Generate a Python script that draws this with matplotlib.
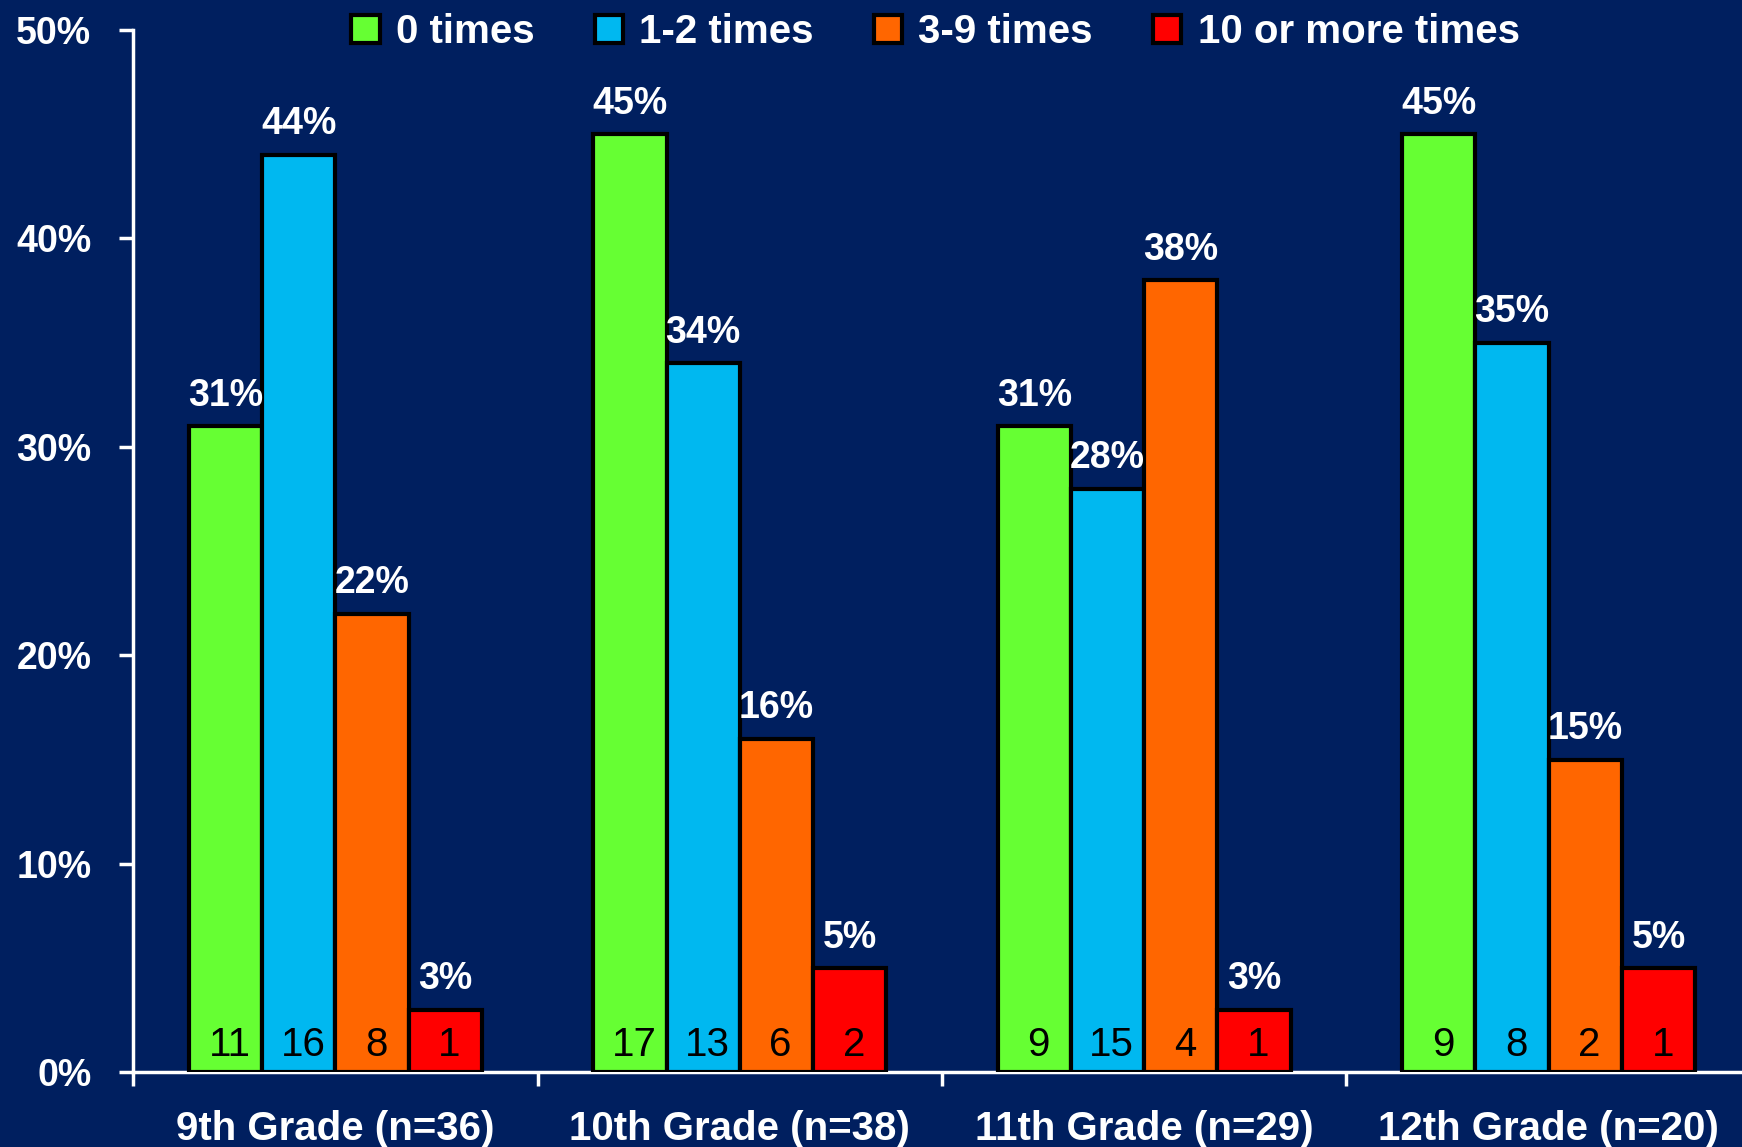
import numpy as np
import matplotlib
matplotlib.use("Agg")
import matplotlib.pyplot as plt
from matplotlib.ticker import FixedLocator

plt.rcParams['font.family'] = ['Liberation Sans', 'DejaVu Sans']

# data
grades = ["9th Grade (n=36)", "10th Grade (n=38)", "11th Grade (n=29)", "12th Grade (n=20)"]
series = ["0 times", "1-2 times", "3-9 times", "10 or more times"]
pct_0 = [31, 45, 31, 45]
pct_12 = [44, 34, 28, 35]
pct_39 = [22, 16, 38, 15]
pct_10 = [3, 5, 3, 5]
cnt_0 = [11, 17, 9, 9]
cnt_12 = [16, 13, 15, 8]
cnt_39 = [8, 6, 4, 2]
cnt_10 = [1, 2, 1, 1]

pcts = [pct_0, pct_12, pct_39, pct_10]
counts = [cnt_0, cnt_12, cnt_39, cnt_10]
colors = ["#66FF33", "#00B8F0", "#FF6600", "#FF0000"]
bg = "#001F5F"

fig = plt.figure(figsize=(17.42, 11.47), dpi=100, facecolor=bg)
ax = fig.add_axes([0.0764, 0.065, 0.9236, 0.909], facecolor=bg)

x = np.arange(len(grades))
w = 0.181
for i in range(4):
    pos = x + (i - 1.5) * w
    bars = ax.bar(pos, pcts[i], width=w, color=colors[i], edgecolor="black",
                  linewidth=3, label=series[i], zorder=3)
    for b, p, c in zip(bars, pcts[i], counts[i]):
        cx = b.get_x() + b.get_width() / 2
        ax.annotate(f"{p}%", (cx, p), xytext=(0, 9), textcoords="offset points",
                    ha="center", va="bottom", color="white", fontsize=27,
                    fontweight="bold", zorder=4)
        ax.annotate(str(c), (cx, 0), xytext=(3, 6), textcoords="offset points",
                    ha="center", va="bottom", color="black", fontsize=29,
                    zorder=4)

ax.set_ylim(0, 50)
ax.set_xlim(-0.5, 3.478)
ax.set_yticks(range(0, 51, 10))
ax.set_yticklabels([f"{v}%" for v in range(0, 51, 10)])
ax.set_xticks(x)
ax.set_xticklabels(grades)
ax.xaxis.set_minor_locator(FixedLocator([-0.5, 0.5, 1.5, 2.5, 3.5]))

for s in ["top", "right"]:
    ax.spines[s].set_visible(False)
for s in ["left", "bottom"]:
    ax.spines[s].set_color("white")
    ax.spines[s].set_linewidth(2.5)

ax.tick_params(axis="y", colors="white", labelsize=27, length=10, width=2.5, pad=20)
ax.tick_params(axis="x", which="major", colors="white", labelsize=29, length=0, pad=27)
ax.tick_params(axis="x", which="minor", color="white", length=10, width=2.5)
for lab in ax.get_xticklabels() + ax.get_yticklabels():
    lab.set_fontweight("bold")

leg = fig.legend(loc="center", bbox_to_anchor=(0.537, 0.972), ncol=4, frameon=False,
                 handlelength=0.7, handleheight=0.7, handletextpad=0.4,
                 columnspacing=1.5, labelcolor="white", prop={"weight": "bold", "size": 29})

fig.savefig("out.png", dpi=100, facecolor=bg)
